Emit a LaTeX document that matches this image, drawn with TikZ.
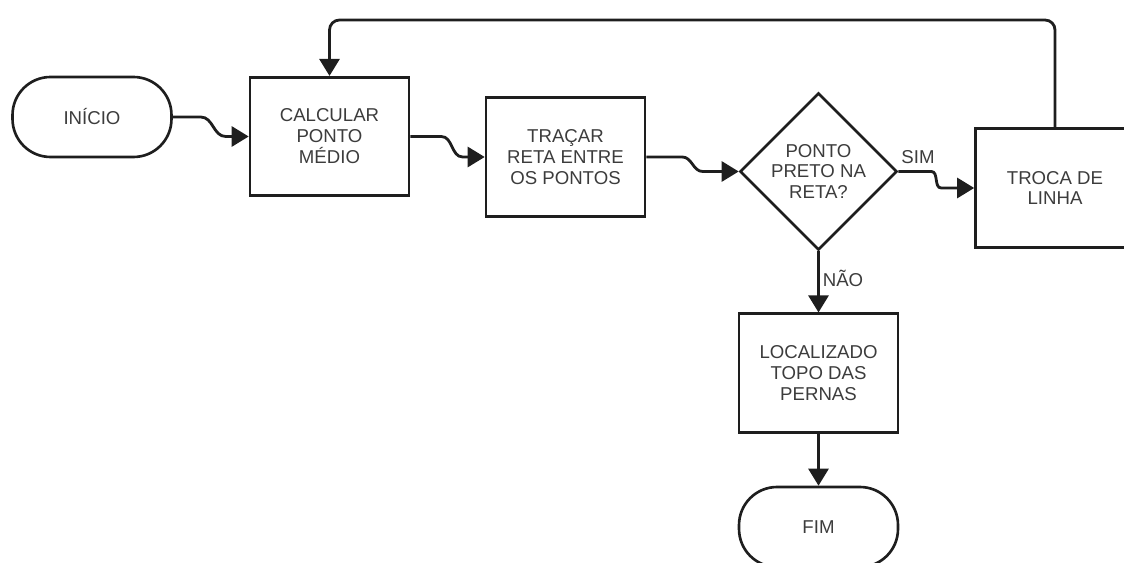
\documentclass[tikz,border=0pt]{standalone}
\usepackage{fontspec}
\setmainfont{Liberation Sans}
\usetikzlibrary{shapes.geometric,arrows.meta,calc}

\definecolor{linecol}{HTML}{1E1E1E}
\definecolor{txtcol}{HTML}{3C3C3C}

\tikzset{
	base/.style={draw=linecol, line width=1.5pt, text=txtcol, align=center,
		font=\fontsize{10.6}{11.9}\selectfont, inner sep=2pt},
	terminal/.style={base, rectangle, rounded corners=0.76cm, minimum width=3.18cm, minimum height=1.6cm},
	process/.style={base, rectangle, minimum width=3.18cm, minimum height=2.37cm},
	decision/.style={base, diamond, aspect=1, inner sep=0pt, minimum size=3.14cm},
	flow/.style={draw=linecol, line width=1.6pt, -{Triangle[length=0.34cm,width=0.4cm]}},
	lbl/.style={text=txtcol, font=\fontsize{10.6}{11.9}\selectfont, inner sep=0pt}
}

\begin{document}
\begin{tikzpicture}[x=0.02cm,y=-0.02cm]
		\useasboundingbox (0,0) rectangle (1124,563);
		
		% nodes
		\node[terminal] (ini)   at (92,117)    {INÍCIO};
		\node[process]  (calc)  at (329.5,136.5) {CALCULAR\\PONTO\\MÉDIO};
		\node[process]  (trac)  at (565.5,157) {TRAÇAR\\RETA ENTRE\\OS PONTOS};
		\node[decision] (dec)   at (818.5,171.5) {PONTO\\PRETO NA\\RETA?};
		\node[process]  (troca) at (1055,188)  {TROCA DE\\LINHA};
		\node[process]  (loc)   at (818.5,373) {LOCALIZADO\\TOPO DAS\\PERNAS};
		\node[terminal] (fim)   at (818.5,527) {FIM};
		\coordinate (top) at (700,20);
		
		% connectors
		\draw[flow] (ini.east) -- ++(0.56cm,0) to[out=0,in=180] ([xshift=-0.46cm]calc.west) -- (calc.west);
		\draw[flow] (calc.east) -- ++(0.62cm,0) to[out=0,in=180] ([xshift=-0.44cm]trac.west) -- (trac.west);
		\draw[flow] (trac.east) -- ++(0.72cm,0) to[out=0,in=180] ([xshift=-0.72cm]dec.west) -- (dec.west);
		\draw[flow] (dec.east) -- ++(0.66cm,0) to[out=0,in=180] ([xshift=-0.66cm]troca.west) -- (troca.west);
		\draw[flow] (dec.south) -- (loc.north);
		\draw[flow] (loc.south) -- (fim.north);
		\draw[flow, rounded corners=0.2cm] (troca.north) |- (top) -| (calc.north);
		
		% labels
		\node[lbl] (sim) at (918,157) {SIM};
		\node[lbl] (nao) at (843,278) {NÃO};
\end{tikzpicture}
\end{document}
